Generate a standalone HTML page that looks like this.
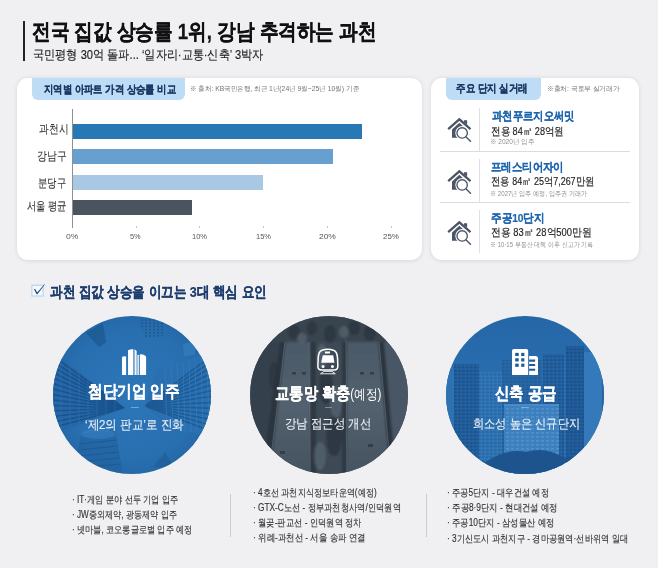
<!DOCTYPE html>
<html><head><meta charset="utf-8">
<style>
*{margin:0;padding:0;box-sizing:border-box;}
html,body{width:658px;height:568px;overflow:hidden;}
body{background:#f0f0f2;font-family:"Liberation Sans",sans-serif;position:relative;color:#222;}
.a{position:absolute;white-space:nowrap;}
.title{font-size:22px;font-weight:bold;color:#111;line-height:30px;-webkit-text-stroke:0.3px #111;}
.sub{font-size:13px;color:#1e1e1e;line-height:18px;-webkit-text-stroke:0.15px #1e1e1e;}
.panel{position:absolute;top:77.5px;height:182px;background:#fff;border-radius:11px;box-shadow:0 0.5px 4px rgba(0,0,0,0.10);}
.tab{position:absolute;top:77.5px;height:22.2px;background:#bedcf6;border-radius:0 0 6px 6px;}
.tabt{font-size:10.5px;font-weight:bold;color:#1b3a63;line-height:14px;-webkit-text-stroke:0.2px #1b3a63;}
.src{font-size:7.3px;color:#6e737a;line-height:10px;}
.ylab{font-size:11.5px;color:#333;line-height:14px;-webkit-text-stroke:0.1px #333;}
.xlab{font-size:8px;color:#555;line-height:10px;}
.tick{position:absolute;top:225.5px;width:1px;height:2.5px;background:#c4c7cc;}
.hb{position:absolute;left:72.5px;height:15.4px;}
.vl{position:absolute;left:479.3px;width:1px;background:#dde0e4;}
.hl{position:absolute;left:440px;width:190px;height:1px;background:#d9dce0;}
.nm{font-size:11.5px;font-weight:bold;color:#1f66b0;line-height:16px;-webkit-text-stroke:0.2px #1f66b0;}
.dt{font-size:10.5px;color:#222;line-height:14px;-webkit-text-stroke:0.15px #222;}
.nt{font-size:7px;color:#8a8e95;line-height:10px;}
.circle{position:absolute;top:315.5px;width:158px;height:158px;border-radius:50%;overflow:hidden;}
.ct{font-size:17px;font-weight:bold;color:#fff;line-height:20px;-webkit-text-stroke:0.2px #fff;}
.yj{font-weight:normal;font-size:14px;-webkit-text-stroke:0;}
.cs{font-size:13px;color:#eef2f7;line-height:16px;-webkit-text-stroke:0.12px #eef2f7;}
.cl{position:absolute;top:407px;width:8px;height:1px;background:rgba(255,255,255,0.35);}
.li{font-size:10px;color:#2e2e2e;line-height:14px;-webkit-text-stroke:0.12px #2e2e2e;}
.dv{position:absolute;width:1px;background:#c9ccd1;}
.a{transform-origin:0 0;}
.sect{font-size:15px;font-weight:bold;color:#1c3c6e;line-height:20px;-webkit-text-stroke:0.2px #1c3c6e;}

</style></head><body>
<div style="position:absolute;left:23px;top:21px;width:2px;height:40px;background:#222;"></div>
<div class="panel" style="left:17px;width:405px;"></div>
<div class="tab" style="left:32px;width:153px;"></div>
<div style="position:absolute;left:72px;top:109px;width:1px;height:119px;background:#8d9196;"></div>
<div class="hb" style="top:123.5px;width:289.8px;background:#2878b6;"></div>
<div class="hb" style="top:149px;width:260.3px;background:#67a0d0;"></div>
<div class="hb" style="top:174.5px;width:190.4px;background:#a8c8e4;"></div>
<div class="hb" style="top:200px;width:119.5px;background:#4a545f;"></div>
<div class="tick" style="left:135.5px;"></div>
<div class="tick" style="left:199.3px;"></div>
<div class="tick" style="left:263.2px;"></div>
<div class="tick" style="left:326.8px;"></div>
<div class="tick" style="left:390.5px;"></div>
<div class="panel" style="left:431px;width:208px;"></div>
<div class="tab" style="left:446px;width:94.5px;"></div>
<div class="vl" style="top:108px;height:43px;"></div>
<div class="vl" style="top:159px;height:43px;"></div>
<div class="vl" style="top:210px;height:43px;"></div>
<div class="hl" style="top:151px;"></div>
<div class="hl" style="top:202px;"></div>
<!-- house icons -->
<svg style="position:absolute;left:443px;top:112px;" width="32" height="32" viewBox="0 0 568 568">
 <g id="house">
 <polygon points="372,145 428,145 428,222 372,180" fill="#4b5567"/>
 <polyline points="92,305 290,130 488,305" fill="none" stroke="#4b5567" stroke-width="40" stroke-linejoin="miter"/>
 <polygon points="160,310 290,192 420,310 420,458 160,458" fill="#4b5567"/>
 <circle cx="340" cy="372" r="122" fill="#fff"/>
 <circle cx="340" cy="372" r="92" fill="#fff" stroke="#4b5567" stroke-width="24"/>
 <line x1="410" y1="445" x2="488" y2="518" stroke="#4b5567" stroke-width="26" stroke-linecap="round"/>
 </g>
</svg>
<svg style="position:absolute;left:443px;top:163.5px;" width="32" height="32" viewBox="0 0 568 568"><use href="#house"/></svg>
<svg style="position:absolute;left:443px;top:214.5px;" width="32" height="32" viewBox="0 0 568 568"><use href="#house"/></svg>
<!-- checkbox -->
<svg style="position:absolute;left:28px;top:280px;" width="20" height="20" viewBox="0 0 568 568">
 <rect x="110" y="150" width="320" height="305" fill="#f7f9fc" stroke="#bcdaf4" stroke-width="40"/>
 <path d="M172,262 L200,250 L262,355 L465,118 L478,130 L268,405 L245,405 Z" fill="#1b4775"/>
</svg>

<!-- circle 1 -->
<svg style="position:absolute;left:53px;top:315.5px;" width="158" height="158" viewBox="0 0 158 158">
 <defs>
  <clipPath id="cc"><circle cx="79" cy="79" r="79"/></clipPath>
  <radialGradient id="g1" cx="50%" cy="50%" r="55%"><stop offset="0" stop-color="#2c76b7"/><stop offset="0.75" stop-color="#286fb0"/><stop offset="1" stop-color="#2365a4"/></radialGradient>
  <pattern id="grid1" width="4" height="3.2" patternUnits="userSpaceOnUse"><rect width="2.2" height="1.8" fill="#174d85" opacity="0.55"/></pattern>
  <clipPath id="lf"><polygon points="0,36 72,92 0,118"/></clipPath>
  <clipPath id="rf"><polygon points="104,52 158,36 158,120 120,114 92,90"/></clipPath>
 </defs>
 <g clip-path="url(#cc)">
  <rect width="158" height="158" fill="url(#g1)"/>
  <polygon points="32.8,16.4 49.7,7.2 53.2,26.3 46.2,31.2" fill="#1e5890" opacity="0.75"/>
  <polygon points="86,4 110,0 111,20 92,22" fill="url(#grid1)"/>
  <polygon points="130,28 142,25 142,39 131,40" fill="#3a86c6" opacity="0.5"/>
  <g clip-path="url(#lf)">
   <rect width="158" height="158" fill="#2566a6"/>
   <g stroke="#174d86" stroke-width="1.6" opacity="0.75"><line x1="0" y1="40.0" x2="72" y2="92"/><line x1="0" y1="45.5" x2="72" y2="92"/><line x1="0" y1="51.0" x2="72" y2="92"/><line x1="0" y1="56.5" x2="72" y2="92"/><line x1="0" y1="62.0" x2="72" y2="92"/><line x1="0" y1="67.5" x2="72" y2="92"/><line x1="0" y1="73.0" x2="72" y2="92"/><line x1="0" y1="78.5" x2="72" y2="92"/><line x1="0" y1="84.0" x2="72" y2="92"/><line x1="0" y1="89.5" x2="72" y2="92"/><line x1="0" y1="95.0" x2="72" y2="92"/><line x1="0" y1="100.5" x2="72" y2="92"/><line x1="0" y1="106.0" x2="72" y2="92"/><line x1="0" y1="111.5" x2="72" y2="92"/></g>
   <g stroke="#3a84c4" stroke-width="0.6" opacity="0.6"><line x1="8" y1="0" x2="8" y2="158"/><line x1="17" y1="0" x2="17" y2="158"/><line x1="26" y1="0" x2="26" y2="158"/><line x1="35" y1="0" x2="35" y2="158"/><line x1="44" y1="0" x2="44" y2="158"/><line x1="53" y1="0" x2="53" y2="158"/><line x1="62" y1="0" x2="62" y2="158"/></g>
  </g>
  <g clip-path="url(#rf)">
   <rect width="158" height="158" fill="#2a70b0"/>
   <g stroke="#184e86" stroke-width="1.5" opacity="0.65"><line x1="158" y1="40.0" x2="92" y2="90"/><line x1="158" y1="45.8" x2="92" y2="90"/><line x1="158" y1="51.6" x2="92" y2="90"/><line x1="158" y1="57.4" x2="92" y2="90"/><line x1="158" y1="63.2" x2="92" y2="90"/><line x1="158" y1="69.0" x2="92" y2="90"/><line x1="158" y1="74.8" x2="92" y2="90"/><line x1="158" y1="80.6" x2="92" y2="90"/><line x1="158" y1="86.4" x2="92" y2="90"/><line x1="158" y1="92.2" x2="92" y2="90"/><line x1="158" y1="98.0" x2="92" y2="90"/><line x1="158" y1="103.8" x2="92" y2="90"/><line x1="158" y1="109.6" x2="92" y2="90"/><line x1="158" y1="115.4" x2="92" y2="90"/></g>
   <g stroke="#3580c0" stroke-width="1" opacity="0.6"><line x1="112" y1="50.0" x2="114" y2="118.0"/><line x1="118" y1="48.4" x2="120" y2="117.5"/><line x1="124" y1="46.8" x2="126" y2="117.0"/><line x1="130" y1="45.2" x2="132" y2="116.5"/><line x1="136" y1="43.6" x2="138" y2="116.0"/><line x1="142" y1="42.0" x2="144" y2="115.5"/><line x1="148" y1="40.4" x2="150" y2="115.0"/><line x1="154" y1="38.8" x2="156" y2="114.5"/></g>
  </g>
  <!-- bottom tower -->
  <polygon points="28,118 62,114 70,158 20,158" fill="#2262a0" opacity="0.65"/>
  <ellipse cx="45" cy="118" rx="17" ry="5" fill="#3b84c3" opacity="0.55"/>
  <g stroke="#1a4f86" stroke-width="0.9" opacity="0.6">
   <line x1="27" y1="128" x2="64" y2="124"/><line x1="26" y1="134" x2="65" y2="130"/><line x1="25" y1="140" x2="66" y2="136"/><line x1="24" y1="146" x2="67" y2="142"/><line x1="23" y1="152" x2="68" y2="148"/>
  </g>
  <polygon points="100,151 112,136 122,152" fill="#1f5a94" opacity="0.55"/>
 </g>
</svg>

<!-- circle 2 -->
<svg style="position:absolute;left:249.6px;top:315.5px;" width="158" height="158" viewBox="0 0 158 158">
 <defs>
  <linearGradient id="e1" x1="0" y1="0" x2="0" y2="1"><stop offset="0" stop-color="#4b5967"/><stop offset="0.5" stop-color="#53616f"/><stop offset="1" stop-color="#46535f"/></linearGradient>
  <filter id="bl" x="-20%" y="-20%" width="140%" height="140%"><feGaussianBlur stdDeviation="1.3"/></filter>
 </defs>
 <g clip-path="url(#cc)">
  <rect width="158" height="158" fill="#3f4b58"/>
  <g filter="url(#bl)">
  <polygon points="0,20 30,24 14,158 0,158" fill="#36414d"/>
  <polygon points="30,24 36,24 20,158 12,158" fill="#2c3641"/>
  <polygon points="36,24 60,24 60,158 20,158" fill="url(#e1)"/>
  <polygon points="60,24 66,24 66,158 60,158" fill="#2e3843"/>
  <polygon points="66,24 92,24 92,158 66,158" fill="#3c4855"/>
  <polygon points="92,24 97,24 97,158 92,158" fill="#2e3843"/>
  <polygon points="97,24 128,24 140,158 97,158" fill="url(#e1)"/>
  <polygon points="128,24 134,24 146,158 140,158" fill="#2c3641"/>
  <polygon points="134,24 158,20 158,158 146,158" fill="#4a5765"/>
  <rect x="0" y="0" width="158" height="26" fill="#39444f"/>
  <g fill="#2a333d" opacity="0.7">
   <ellipse cx="44" cy="16" rx="6" ry="7"/><ellipse cx="62" cy="12" rx="5" ry="7"/><ellipse cx="80" cy="18" rx="6" ry="9"/>
   <ellipse cx="104" cy="12" rx="6" ry="7"/><ellipse cx="120" cy="17" rx="6" ry="8"/><ellipse cx="76" cy="70" rx="7" ry="18"/>
   <ellipse cx="84" cy="120" rx="8" ry="20"/><ellipse cx="24" cy="60" rx="5" ry="14"/>
  </g>
  <g fill="#5e6b79" opacity="0.6">
   <ellipse cx="52" cy="22" rx="5" ry="5"/><ellipse cx="94" cy="16" rx="5" ry="6"/><ellipse cx="72" cy="40" rx="5" ry="12"/>
   <ellipse cx="86" cy="86" rx="6" ry="16"/><ellipse cx="70" cy="140" rx="6" ry="14"/>
  </g>
  </g>
  <g stroke="#66737f" stroke-width="1" opacity="0.55" fill="none">
   <line x1="35" y1="26" x2="19" y2="158"/><line x1="59" y1="26" x2="60" y2="158"/>
   <line x1="96" y1="24" x2="97" y2="158"/><line x1="129" y1="26" x2="141" y2="158"/>
  </g>
  <g fill="#2e3843" opacity="0.8">
   <rect x="42" y="56" width="4" height="2.5"/><rect x="52" y="56" width="4" height="2.5"/>
   <rect x="110" y="56" width="4" height="2.5"/><rect x="120" y="56" width="4" height="2.5"/>
   <rect x="30" y="135" width="5" height="3"/><rect x="118" y="128" width="5" height="3"/>
  </g>
 </g>
</svg>

<!-- circle 3 -->
<svg style="position:absolute;left:446px;top:315.5px;" width="158" height="158" viewBox="0 0 158 158">
 <defs>
  <linearGradient id="sky" x1="0" y1="0" x2="0" y2="1"><stop offset="0" stop-color="#2466a6"/><stop offset="0.35" stop-color="#2a6dae"/><stop offset="1" stop-color="#2a6bab"/></linearGradient>
  <pattern id="win" width="4" height="3.6" patternUnits="userSpaceOnUse"><rect width="2.6" height="1.8" fill="#184a7f" opacity="0.6"/></pattern>
  <pattern id="winl" width="5" height="4" patternUnits="userSpaceOnUse"><rect width="3" height="1.6" fill="#5c98cf" opacity="0.7"/></pattern>
 </defs>
 <g clip-path="url(#cc)">
  <rect width="158" height="158" fill="url(#sky)"/>
  <rect x="0" y="52" width="8" height="106" fill="#2e72b2"/>
  <rect x="8" y="48" width="25" height="110" fill="#2360a0"/>
  <rect x="8" y="48" width="25" height="110" fill="url(#win)"/>
  <rect x="33" y="56" width="23" height="102" fill="#3176b6"/>
  <rect x="33" y="56" width="23" height="102" fill="url(#win)" opacity="0.6"/>
  <rect x="56" y="44" width="40" height="114" fill="#2767a6"/>
  <rect x="56" y="44" width="40" height="114" fill="url(#win)" opacity="0.6"/>
  <rect x="97" y="38" width="21" height="120" fill="#2462a1"/>
  <rect x="97" y="38" width="21" height="120" fill="url(#win)"/>
  <rect x="120" y="30" width="18" height="128" fill="#215d9b"/>
  <rect x="120" y="30" width="18" height="128" fill="url(#win)"/>
  <rect x="138" y="36" width="18" height="122" fill="#3479b9"/>
  <rect x="156" y="60" width="4" height="98" fill="#2563a2"/>
  <rect x="58" y="88" width="55" height="70" fill="#3c80bf"/>
  <rect x="58" y="88" width="55" height="70" fill="url(#winl)"/>
  <rect x="58" y="88" width="55" height="2" fill="#4a8ac6"/>
  <path d="M0,150 Q20,140 40,146 Q60,132 80,136 Q100,130 118,142 Q140,138 158,146 L158,158 L0,158 Z" fill="#1d548d"/>
 </g>
</svg>

<!-- circle icons -->
<svg style="position:absolute;left:116px;top:344px;" width="36" height="36" viewBox="0 0 568 568" fill="#fff">
 <path d="M95,205 Q125,186 160,197 L160,490 L95,490 Z"/>
 <path d="M190,100 Q232,78 274,84 L274,490 L190,490 Z"/>
 <path d="M292,86 Q316,92 326,112 L326,490 L292,490 Z" fill="#f1f5f9"/>
 <path d="M338,175 Q349,167 360,172 L360,490 L338,490 Z"/>
 <path d="M376,164 Q440,158 475,196 L475,490 L376,490 Z"/>
</svg>
<svg style="position:absolute;left:309px;top:344px;" width="36" height="36" viewBox="0 0 568 568">
 <path d="M205,98 Q295,70 385,98 Q445,118 450,220 L455,350 Q455,408 398,410 L198,410 Q140,408 140,350 L145,220 Q150,118 205,98 Z" fill="none" stroke="#fff" stroke-width="24"/>
 <rect x="252" y="118" width="80" height="32" fill="#fff"/>
 <path d="M218,176 L382,176 L402,296 L192,296 Z" fill="#fff"/>
 <circle cx="222" cy="355" r="24" fill="#fff"/>
 <circle cx="370" cy="355" r="24" fill="#fff"/>
 <path d="M236,432 L362,432 L415,470 L182,470 Z" fill="none" stroke="#fff" stroke-width="14"/>
</svg>
<svg style="position:absolute;left:506px;top:344px;" width="36" height="36" viewBox="0 0 568 568">
 <path d="M95,490 L95,110 Q95,80 125,80 L320,80 Q350,80 350,110 L350,490 Z" fill="#fff"/>
 <g fill="#1d5a98"><rect x="145" y="140" width="55" height="50"/><rect x="240" y="140" width="50" height="50"/><rect x="145" y="225" width="55" height="50"/><rect x="240" y="225" width="50" height="50"/><rect x="145" y="310" width="55" height="50"/><rect x="240" y="310" width="50" height="50"/></g>
 <path d="M365,490 L365,190 L465,190 Q505,190 505,230 L505,490 Z" fill="#fff"/>
 <g fill="#1d5a98"><rect x="365" y="245" width="95" height="35"/><rect x="365" y="315" width="95" height="32"/><rect x="365" y="390" width="95" height="32"/></g>
</svg>

<div class="cl" style="left:130.7px;"></div>
<div class="cl" style="left:325.3px;width:6.5px;"></div>
<div class="cl" style="left:520.7px;"></div>
<div class="dv" style="left:230px;top:494px;height:43px;"></div>
<div class="dv" style="left:426px;top:494px;height:43px;"></div>

<div id="title" class="a title" style="left:31.60px;top:16.50px;letter-spacing:0.000px;transform:scaleX(0.8464);">전국 집값 상승률 1위, 강남 추격하는 과천</div>
<div id="sub" class="a sub" style="left:32.70px;top:45.50px;letter-spacing:0.000px;transform:scaleX(0.8567);">국민평형 30억 돌파... ‘일자리·교통·신축’ 3박자</div>
<div id="tab1t" class="a tabt" style="left:43.80px;top:82.00px;letter-spacing:0.000px;transform:scaleX(0.8543);">지역별 아파트 가격 상승률 비교</div>
<div id="src1" class="a src" style="left:190.30px;top:84.30px;letter-spacing:0.000px;transform:scaleX(0.9311);">※ 출처: KB국민은행, 최근 1년(24년 9월~25년 10월) 기준</div>
<div id="yl1" class="a ylab" style="left:38.60px;top:122.30px;letter-spacing:0.000px;transform:scaleX(0.8148);">과천시</div>
<div id="yl2" class="a ylab" style="left:37.00px;top:149.40px;letter-spacing:0.000px;transform:scaleX(0.8234);">강남구</div>
<div id="yl3" class="a ylab" style="left:38.40px;top:175.60px;letter-spacing:0.000px;transform:scaleX(0.7802);">분당구</div>
<div id="yl4" class="a ylab" style="left:27.30px;top:199.00px;letter-spacing:0.000px;transform:scaleX(0.7729);">서울 평균</div>
<div id="x0" class="a xlab" style="left:65.90px;top:231.90px;letter-spacing:0.000px;transform:scaleX(1.0686);">0%</div>
<div id="x5" class="a xlab" style="left:130.00px;top:231.90px;letter-spacing:0.000px;transform:scaleX(0.9167);">5%</div>
<div id="x10" class="a xlab" style="left:192.40px;top:231.90px;letter-spacing:0.000px;transform:scaleX(0.9375);">10%</div>
<div id="x15" class="a xlab" style="left:256.20px;top:231.90px;letter-spacing:0.000px;transform:scaleX(0.9289);">15%</div>
<div id="x20" class="a xlab" style="left:319.00px;top:231.90px;letter-spacing:0.000px;transform:scaleX(1.0534);">20%</div>
<div id="x25" class="a xlab" style="left:383.00px;top:231.90px;letter-spacing:0.000px;transform:scaleX(0.9911);">25%</div>
<div id="tab2t" class="a tabt" style="left:456.40px;top:81.00px;letter-spacing:0.000px;transform:scaleX(0.8647);">주요 단지 실거래</div>
<div id="src2" class="a src" style="left:547.00px;top:84.30px;letter-spacing:0.000px;transform:scaleX(0.9521);">※출처: 국토부 실거래가</div>
<div id="nm1" class="a nm" style="left:491.60px;top:108.00px;letter-spacing:0.000px;transform:scaleX(0.8625);">과천푸르지오써밋</div>
<div id="dt1" class="a dt" style="left:491.00px;top:123.50px;letter-spacing:0.000px;transform:scaleX(0.8675);">전용 84㎡ 28억원</div>
<div id="nt1" class="a nt" style="left:490.00px;top:137.40px;letter-spacing:0.000px;transform:scaleX(0.9338);">※ 2020년 입주</div>
<div id="nm2" class="a nm" style="left:491.00px;top:158.90px;letter-spacing:0.000px;transform:scaleX(0.8678);">프레스티어자이</div>
<div id="dt2" class="a dt" style="left:491.00px;top:173.70px;letter-spacing:0.000px;transform:scaleX(0.8501);">전용 84㎡ 25억7,267만원</div>
<div id="nt2" class="a nt" style="left:490.00px;top:189.00px;letter-spacing:0.000px;transform:scaleX(0.8746);">※ 2027년 입주 예정, 입주권 거래가</div>
<div id="nm3" class="a nm" style="left:491.00px;top:210.10px;letter-spacing:0.000px;transform:scaleX(0.8833);">주공10단지</div>
<div id="dt3" class="a dt" style="left:491.00px;top:224.90px;letter-spacing:0.000px;transform:scaleX(0.8929);">전용 83㎡ 28억500만원</div>
<div id="nt3" class="a nt" style="left:490.00px;top:240.00px;letter-spacing:0.000px;transform:scaleX(0.8574);">※ 10·15 부동산 대책 이후 신고가 기록</div>
<div id="sect" class="a sect" style="left:49.50px;top:281.60px;letter-spacing:0.000px;transform:scaleX(0.8389);">과천 집값 상승을 이끄는 3대 핵심 요인</div>
<div id="c1t" class="a ct" style="left:88.30px;top:381.90px;letter-spacing:0.000px;transform:scaleX(0.8587);">첨단기업 입주</div>
<div id="c1s" class="a cs" style="left:84.60px;top:416.60px;letter-spacing:0.000px;transform:scaleX(0.8867);">‘제2의 판교’로 진화</div>
<div id="c2t" class="a ct" style="left:274.60px;top:383.60px;letter-spacing:0.000px;transform:scaleX(0.8383);">교통망 확충<span class="yj">(예정)</span></div>
<div id="c2s" class="a cs" style="left:284.80px;top:415.90px;letter-spacing:0.000px;transform:scaleX(0.8771);">강남 접근성 개선</div>
<div id="c3t" class="a ct" style="left:494.70px;top:383.60px;letter-spacing:0.000px;transform:scaleX(0.8466);">신축 공급</div>
<div id="c3s" class="a cs" style="left:473.30px;top:415.90px;letter-spacing:0.000px;transform:scaleX(0.8614);">희소성 높은 신규단지</div>
<div id="l1a" class="a li" style="left:71.80px;top:493.00px;letter-spacing:0.000px;transform:scaleX(0.8219);">· IT·게임 분야 선두 기업 입주</div>
<div id="l1b" class="a li" style="left:71.80px;top:508.00px;letter-spacing:0.000px;transform:scaleX(0.8140);">· JW중외제약, 광동제약 입주</div>
<div id="l1c" class="a li" style="left:71.80px;top:522.60px;letter-spacing:0.000px;transform:scaleX(0.8172);">· 넷마블, 코오롱글로벌 입주 예정</div>
<div id="l2a" class="a li" style="left:252.90px;top:486.00px;letter-spacing:0.000px;transform:scaleX(0.8186);">· 4호선 과천지식정보타운역(예정)</div>
<div id="l2b" class="a li" style="left:253.30px;top:500.90px;letter-spacing:0.000px;transform:scaleX(0.8267);">· GTX-C노선 - 정부과천청사역/인덕원역</div>
<div id="l2c" class="a li" style="left:252.90px;top:516.40px;letter-spacing:0.000px;transform:scaleX(0.8298);">· 월곶-판교선 - 인덕원역 정차</div>
<div id="l2d" class="a li" style="left:252.90px;top:530.70px;letter-spacing:0.000px;transform:scaleX(0.8410);">· 위례-과천선 - 서울 송파 연결</div>
<div id="l3a" class="a li" style="left:447.40px;top:486.20px;letter-spacing:0.000px;transform:scaleX(0.8272);">· 주공5단지 - 대우건설 예정</div>
<div id="l3b" class="a li" style="left:447.40px;top:500.90px;letter-spacing:0.000px;transform:scaleX(0.8383);">· 주공8·9단지 - 현대건설 예정</div>
<div id="l3c" class="a li" style="left:447.40px;top:516.10px;letter-spacing:0.000px;transform:scaleX(0.8316);">· 주공10단지 - 삼성물산 예정</div>
<div id="l3d" class="a li" style="left:447.40px;top:532.00px;letter-spacing:0.000px;transform:scaleX(0.8256);">· 3기신도시 과천지구 - 경마공원역·선바위역 일대</div>
</body></html>
